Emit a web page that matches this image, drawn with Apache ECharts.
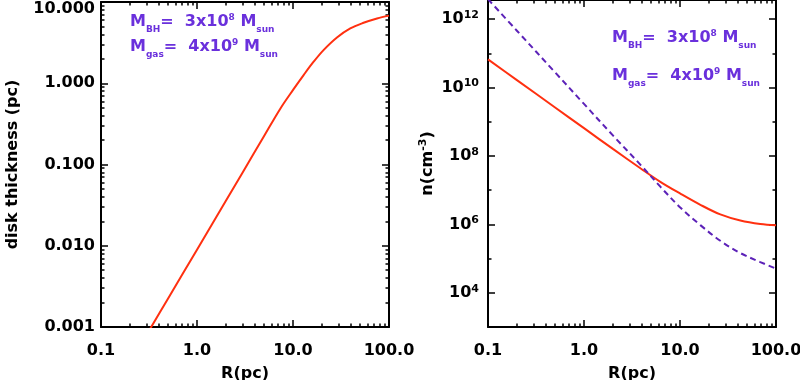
<!DOCTYPE html>
<html><head><meta charset="utf-8">
<script src="https://cdn.jsdelivr.net/npm/echarts@6/dist/echarts.min.js"></script>
<style>html,body{margin:0;padding:0;background:#fff}#c{width:800px;height:380px}</style>
</head><body><div id="c"></div>
<script>
// ---- data ----
const radiusLeft = [0.3, 0.5, 1, 2, 3, 5, 7.4, 10.1, 12.9, 16.4, 20.8, 28.7, 39.5, 54.3, 75, 100];
const diskThickness = [0.00081, 0.00224, 0.00895, 0.0358, 0.0805, 0.224, 0.49, 0.84, 1.26, 1.84, 2.56, 3.66, 4.73, 5.55, 6.28, 6.8];

const radiusRight = [0.1, 0.2, 0.5, 1, 2, 3.9, 6.24, 10, 16.3, 26.3, 42.5, 68.6, 100];
const densitySolid = [6.6e10, 1.64e10, 2.6e9, 6.46e8, 1.6e8, 4.3e7, 1.75e7, 8.0e6, 3.72e6, 1.95e6, 1.29e6, 1.02e6, 9.4e5];
const densityDashed = [3.8e12, 4.56e11, 2.76e10, 3.3e9, 3.97e8, 5.4e7, 1.26e7, 3.16e6, 9.5e5, 3.31e5, 1.45e5, 7.9e4, 5.1e4];

const xMajorTicks = [0.1, 1, 10, 100];
const leftYMajorTicks = [0.001, 0.01, 0.1, 1, 10];
const rightYLabelTicks = [1e4, 1e6, 1e8, 1e10, 1e12];
const rightYMinorTicks = [1e5, 1e7, 1e9, 1e11];

function logMinor(lo, hi) {
  const out = [];
  for (let d = lo; d < hi; d *= 10) for (let k = 2; k <= 9; k++) out.push(+(d * k).toPrecision(6));
  return out;
}
const xMinorTicks = logMinor(0.1, 100);
const leftYMinorTicks = logMinor(0.001, 10);

const FONT = 'DejaVu Sans';
const FW = 'bold';
const RED = '#ff3010';
const PURPLE_TXT = '#6a30dc';
const PURPLE_LINE = '#5c22b8';
const axisLineStyle = { color: '#000', width: 2 };
const tickStyle = { color: '#000', width: 1.5 };
const txt = { fontFamily: FONT, fontWeight: FW, fontSize: 16, color: '#000' };

function xAxesFor(grid, min, max) {
  const base = { type: 'log', logBase: 10, min, max, gridIndex: grid, splitLine: { show: false } };
  return [
    Object.assign({}, base, {
      position: 'bottom',
      axisLine: { show: true, lineStyle: axisLineStyle },
      axisTick: { show: true, inside: true, length: 7, customValues: xMajorTicks, lineStyle: tickStyle },
      axisLabel: Object.assign({ show: true, customValues: xMajorTicks, margin: 16,
        formatter: v => v < 1 ? String(+v.toPrecision(3)) : (+v.toPrecision(6)).toFixed(1) }, txt),
      name: 'R(pc)', nameLocation: 'middle', nameGap: 39,
      nameTextStyle: txt
    }),
    Object.assign({}, base, {
      position: 'bottom',
      axisLine: { show: false },
      axisTick: { show: true, inside: true, length: 3.5, customValues: xMinorTicks, lineStyle: tickStyle },
      axisLabel: { show: false }
    }),
    Object.assign({}, base, {
      position: 'top',
      axisLine: { show: true, lineStyle: axisLineStyle },
      axisTick: { show: true, inside: true, length: 7, customValues: xMajorTicks, lineStyle: tickStyle },
      axisLabel: { show: false }
    }),
    Object.assign({}, base, {
      position: 'top',
      axisLine: { show: false },
      axisTick: { show: true, inside: true, length: 3.5, customValues: xMinorTicks, lineStyle: tickStyle },
      axisLabel: { show: false }
    })
  ];
}

function yAxesFor(grid, min, max, major, minor, labelTicks, labelOpts, nameOpts) {
  const base = { type: 'log', logBase: 10, min, max, gridIndex: grid, splitLine: { show: false } };
  return [
    Object.assign({}, base, {
      position: 'left',
      axisLine: { show: true, lineStyle: axisLineStyle },
      axisTick: { show: true, inside: true, length: 7, customValues: major, lineStyle: tickStyle },
      axisLabel: Object.assign({ show: true, customValues: labelTicks }, txt, labelOpts)
    }, nameOpts),
    Object.assign({}, base, {
      position: 'left',
      axisLine: { show: false },
      axisTick: { show: true, inside: true, length: 3.5, customValues: minor, lineStyle: tickStyle },
      axisLabel: { show: false }
    }),
    Object.assign({}, base, {
      position: 'right',
      axisLine: { show: true, lineStyle: axisLineStyle },
      axisTick: { show: true, inside: true, length: 7, customValues: major, lineStyle: tickStyle },
      axisLabel: { show: false }
    }),
    Object.assign({}, base, {
      position: 'right',
      axisLine: { show: false },
      axisTick: { show: true, inside: true, length: 3.5, customValues: minor, lineStyle: tickStyle },
      axisLabel: { show: false }
    })
  ];
}

const supStyle = { fontFamily: FONT, fontWeight: FW, fontSize: 11, color: '#000', lineHeight: 11, verticalAlign: 'top' };

const leftY = yAxesFor(0, 0.001, 10, leftYMajorTicks, leftYMinorTicks, leftYMajorTicks,
  { margin: 6,
    formatter: v => (v >= 9.99 ? '{t|' + v.toFixed(3) + '}' : v.toFixed(3)),
    rich: { t: Object.assign({}, txt, { padding: [14, 0, 0, 0] }) } },
  { name: 'disk thickness (pc)', nameLocation: 'middle', nameGap: 80, nameRotate: 90,
    nameTextStyle: txt });

const rightY = yAxesFor(1, 1000, 3.6e12, rightYLabelTicks, rightYMinorTicks, rightYLabelTicks,
  { margin: 9,
    formatter: v => '{b|10}{s|' + Math.round(Math.log10(v)) + '}',
    rich: { b: Object.assign({}, txt, { lineHeight: 19 }), s: supStyle } },
  { name: 'n(cm{s|-3})', nameLocation: 'middle', nameGap: 51, nameRotate: 90,
    nameTextStyle: Object.assign({}, txt, { lineHeight: 19, rich: { s: supStyle } }) });

const annRich = {
  m: { fontFamily: FONT, fontWeight: FW, fontSize: 16, fill: PURPLE_TXT, lineHeight: 20, verticalAlign: 'middle' },
  sub: { fontFamily: FONT, fontWeight: FW, fontSize: 9, fill: PURPLE_TXT, lineHeight: 9, verticalAlign: 'bottom', padding: [0, 0, -2, 0] },
  sup: { fontFamily: FONT, fontWeight: FW, fontSize: 9, fill: PURPLE_TXT, lineHeight: 9, verticalAlign: 'top', padding: [1, 0, 0, 0] }
};
const line1 = '{m|M}{sub|BH}{m|=  3x10}{sup|8}{m| M}{sub|sun}';
const line2 = '{m|M}{sub|gas}{m|=  4x10}{sup|9}{m| M}{sub|sun}';
function ann(x, y, t) {
  return { type: 'text', x, y, style: { text: t, rich: annRich, verticalAlign: 'middle', align: 'left' } };
}

const option = {
  animation: false,
  backgroundColor: '#fff',
  grid: [
    { left: 101, right: 411, top: 2, bottom: 53, outerBoundsMode: 'none', containLabel: false },
    { left: 488, right: 24, top: 0, bottom: 53, outerBoundsMode: 'none', containLabel: false }
  ],
  xAxis: xAxesFor(0, 0.1, 100).concat(xAxesFor(1, 0.1, 100)),
  yAxis: leftY.concat(rightY),
  series: [
    { type: 'line', xAxisIndex: 0, yAxisIndex: 0, showSymbol: false, smooth: 0.35, clip: true,
      lineStyle: { color: RED, width: 2 }, itemStyle: { color: RED },
      data: radiusLeft.map((r, i) => [r, diskThickness[i]]) },
    { type: 'line', xAxisIndex: 4, yAxisIndex: 4, showSymbol: false, smooth: 0.35, clip: true,
      lineStyle: { color: RED, width: 2 }, itemStyle: { color: RED },
      data: radiusRight.map((r, i) => [r, densitySolid[i]]) },
    { type: 'line', xAxisIndex: 4, yAxisIndex: 4, showSymbol: false, smooth: 0.35, clip: true,
      lineStyle: { color: PURPLE_LINE, width: 2, type: [6, 4] }, itemStyle: { color: PURPLE_LINE },
      data: radiusRight.map((r, i) => [r, densityDashed[i]]) }
  ],
  graphic: [
    ann(130, 22, line1), ann(130, 47, line2),
    ann(612, 38, line1), ann(612, 76, line2)
  ]
};
const chart = echarts.init(document.getElementById('c'), null, { renderer: 'canvas' });
chart.setOption(option);
</script></body></html>
